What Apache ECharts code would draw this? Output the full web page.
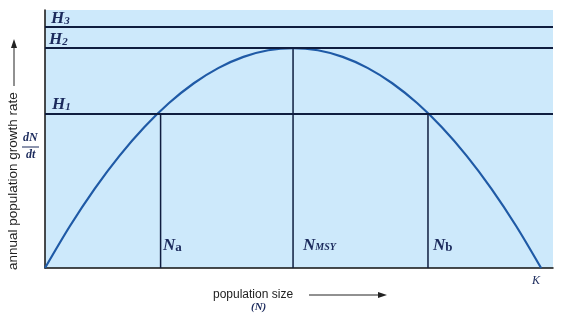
<!DOCTYPE html>
<html><head><meta charset="utf-8">
<script src="https://cdn.jsdelivr.net/npm/echarts@6/dist/echarts.min.js"></script>
<style>html,body{margin:0;padding:0;background:#fff}#c{width:567px;height:323px}</style>
</head><body><div id="c"></div>
<script>
// population size N (K = 100) and growth rate dN/dt (MSY = 100)
const curveN = [0, 5, 10, 15, 20, 25, 30, 35, 40, 45, 50, 55, 60, 65, 70, 75, 80, 85, 90, 95, 100];
const curveRate = [0, 19, 36, 51, 64, 75, 84, 91, 96, 99, 100, 99, 96, 91, 84, 75, 64, 51, 36, 19, 0];
const harvestNames = ['H3', 'H2', 'H1'];
const harvestLevels = [109.5, 100, 70];
const pointNames = ['Na', 'NMSY', 'Nb'];
const pointN = [23.3, 50, 77.2];
const pointRate = [70, 100, 70];
const K = 100;

const chart = echarts.init(document.getElementById('c'), null, {renderer: 'canvas'});
const navy = '#0f1d3f';
const lblColor = '#1b2a5c';
const serif = "'Liberation Serif', 'DejaVu Serif', serif";
const sans = "'Liberation Sans', Arial, sans-serif";

const verticals = pointN.map((n, i) => ({
  type: 'line', data: [[n, 0], [n, pointRate[i]]], symbol: 'none', silent: true,
  lineStyle: {color: navy, width: 1.5}, z: 3
}));

const hLabel = (main, sub) => ({
  type: 'text',
  style: {
    text: '{m|' + main + '}{s|' + sub + '}',
    rich: {
      m: {fontFamily: serif, fontStyle: 'italic', fontWeight: 'bold', fontSize: 17, fill: lblColor},
      s: {fontFamily: serif, fontStyle: 'italic', fontWeight: 'bold', fontSize: 11, fill: lblColor, padding: [5, 0, 0, 0]}
    }
  }
});

const graphics = [];
const hPos = [[51, 10], [49, 31], [52, 96]];
harvestNames.forEach((h, i) => {
  const g = hLabel(h[0], h.slice(1));
  g.left = hPos[i][0]; g.top = hPos[i][1];
  graphics.push(g);
});
const nPos = [[163, 237], [303, 237], [433, 237]];
pointNames.forEach((p, i) => {
  const sub = p.slice(1);
  graphics.push({
    type: 'text', left: nPos[i][0], top: nPos[i][1],
    style: {
      text: '{m|N}{s|' + sub + '}',
      rich: {
        m: {fontFamily: serif, fontStyle: 'italic', fontWeight: 'bold', fontSize: 17, fill: lblColor},
        s: {fontFamily: serif, fontStyle: sub === 'MSY' ? 'italic' : 'normal', fontWeight: 'bold',
            fontSize: sub === 'MSY' ? 10 : 13, fill: lblColor, padding: [4, 0, 0, 0]}
      }
    }
  });
});
graphics.push({type: 'text', left: 532, top: 275,
  style: {text: 'K', fontFamily: serif, fontStyle: 'italic', fontSize: 12, fill: lblColor}});
// dN/dt
graphics.push({type: 'text', left: 23, top: 132,
  style: {text: 'dN', fontFamily: serif, fontStyle: 'italic', fontWeight: 'bold', fontSize: 12, fill: lblColor}});
graphics.push({type: 'line', shape: {x1: 22, y1: 147, x2: 39, y2: 147}, style: {stroke: lblColor, lineWidth: 1}});
graphics.push({type: 'text', left: 26, top: 149,
  style: {text: 'dt', fontFamily: serif, fontStyle: 'italic', fontWeight: 'bold', fontSize: 12, fill: lblColor}});
// y axis title
graphics.push({type: 'text', x: 6, y: 270, rotation: Math.PI / 2,
  style: {text: 'annual population growth rate', fontFamily: sans,
    fontSize: 13.5, fill: '#222', textVerticalAlign: 'top', textAlign: 'left'}});
graphics.push({type: 'line', shape: {x1: 14, y1: 86, x2: 14, y2: 44}, style: {stroke: '#222', lineWidth: 1}});
graphics.push({type: 'polygon', shape: {points: [[14, 39], [11, 48], [17, 48]]}, style: {fill: '#222'}});
// x axis title
graphics.push({type: 'text', left: 213, top: 289,
  style: {text: 'population size', fontFamily: sans, fontSize: 12, fill: '#222'}});
graphics.push({type: 'line', shape: {x1: 309, y1: 295, x2: 380, y2: 295}, style: {stroke: '#222', lineWidth: 1}});
graphics.push({type: 'polygon', shape: {points: [[387, 295], [378, 292], [378, 298]]}, style: {fill: '#222'}});
graphics.push({type: 'text', left: 251, top: 302,
  style: {text: '(N)', fontFamily: serif, fontStyle: 'italic', fontWeight: 'bold', fontSize: 11, fill: lblColor}});

chart.setOption({
  animation: false,
  grid: {left: 45, top: 10, right: 14, bottom: 55, show: true, backgroundColor: '#cde9fb', borderWidth: 0},
  xAxis: {type: 'value', min: 0, max: 102.4, axisLabel: {show: false}, axisTick: {show: false},
    splitLine: {show: false}, axisLine: {show: true, onZero: false, lineStyle: {color: '#111', width: 1.5}}},
  yAxis: {type: 'value', min: 0, max: 117.3, axisLabel: {show: false}, axisTick: {show: false},
    splitLine: {show: false}, axisLine: {show: true, onZero: false, lineStyle: {color: '#111', width: 1.5}}},
  series: [
    {type: 'line', data: curveN.map((n, i) => [n, curveRate[i]]), smooth: 0.3, symbol: 'none',
      lineStyle: {color: '#1f5aa6', width: 2.2}, z: 4,
      markLine: {symbol: 'none', silent: true, label: {show: false},
        lineStyle: {color: navy, width: 2, type: 'solid'},
        data: harvestLevels.map(h => ({yAxis: h}))}}
  ].concat(verticals),
  graphic: graphics
});
</script></body></html>
